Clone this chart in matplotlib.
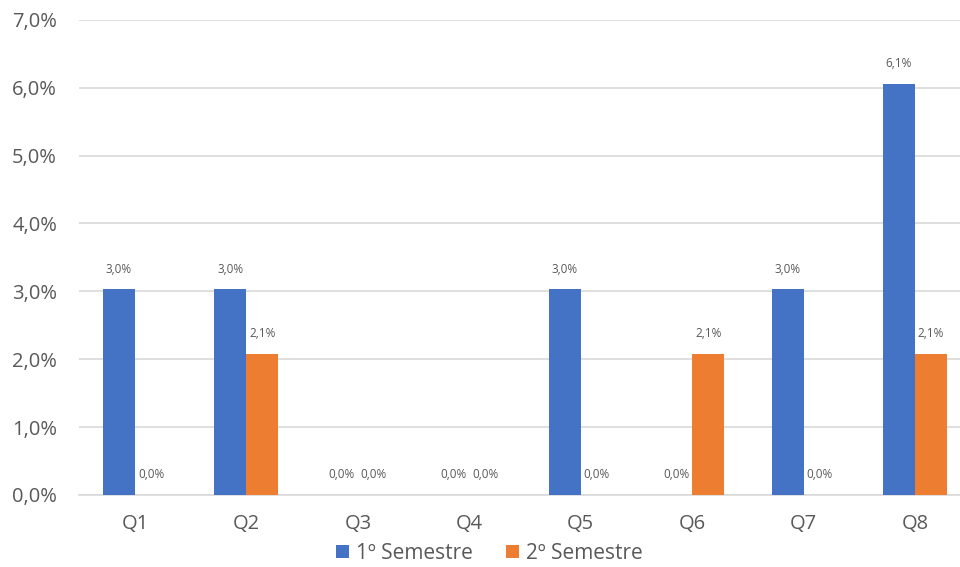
import matplotlib
matplotlib.use("Agg")
import matplotlib.pyplot as plt
import numpy as np

categories = ["Q1", "Q2", "Q3", "Q4", "Q5", "Q6", "Q7", "Q8"]
sem1 = [3.03, 3.03, 0.0, 0.0, 3.03, 0.0, 3.03, 6.06]
sem2 = [0.0, 2.08, 0.0, 0.0, 0.0, 2.08, 0.0, 2.08]
series_names = ["1º Semestre", "2º Semestre"]
yticks = [0, 1, 2, 3, 4, 5, 6, 7]

BLUE = "#4472C4"
ORANGE = "#ED7D31"
TEXT = "#595959"
GRID = "#D9D9D9"

plt.rcParams["font.family"] = ["Open Sans", "DejaVu Sans"]

fig = plt.figure(figsize=(9.6, 5.67), dpi=100)
ax = fig.add_axes([0.0826, 0.127, 1.0112 - 0.0826, 0.965 - 0.127])

x = np.arange(len(categories))
w = 0.287
b1 = ax.bar(x - w / 2, sem1, w, color=BLUE, label=series_names[0], zorder=3)
b2 = ax.bar(x + w / 2, sem2, w, color=ORANGE, label=series_names[1], zorder=3)

for bars, vals in ((b1, sem1), (b2, sem2)):
    for r, v in zip(bars, vals):
        ax.annotate(f"{v:.1f}%".replace(".", ","),
                    (r.get_x() + r.get_width() / 2, v),
                    xytext=(0, 14.5), textcoords="offset points",
                    ha="center", va="center", fontsize=8.5, color=TEXT)

ax.set_xlim(-0.5, len(categories) - 0.5)
ax.set_ylim(0, 7)
ax.set_yticks(yticks)
ax.set_yticklabels([f"{t:.1f}%".replace(".", ",") for t in yticks])
ax.set_xticks(x)
ax.set_xticklabels(categories)
ax.tick_params(axis="both", length=0, labelsize=14.5, labelcolor=TEXT)
ax.tick_params(axis="y", pad=16)
ax.tick_params(axis="x", pad=14)
ax.grid(axis="y", color=GRID, lw=1.2, zorder=0)
for s in ("top", "right", "left"):
    ax.spines[s].set_visible(False)
ax.spines["bottom"].set_color(GRID)
ax.spines["bottom"].set_linewidth(1.2)

fig.legend(handles=[b1, b2], loc="center", bbox_to_anchor=(0.51, 0.024),
           ncol=2, frameon=False, fontsize=15, labelcolor=TEXT,
           handlelength=0.6, handleheight=0.6, handletextpad=0.35,
           columnspacing=1.6)

fig.savefig("out.png", dpi=100)
